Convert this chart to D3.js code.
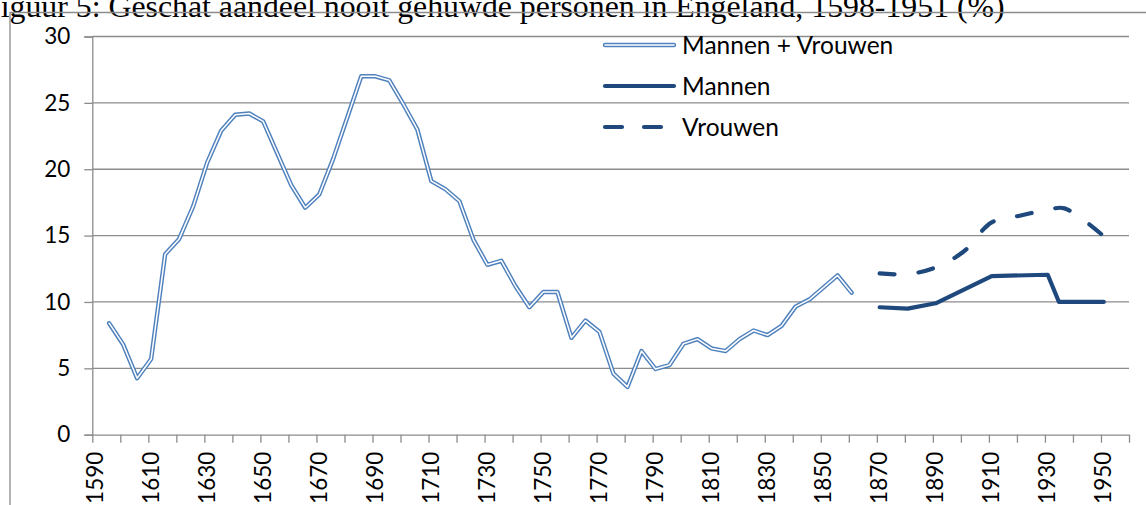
<html>
<head>
<meta charset="utf-8">
<title>Nooit gehuwde personen in Engeland</title>
<script src="https://d3js.org/d3.v7.min.js"></script>
<style>
  html, body { margin:0; padding:0; overflow:hidden; background:#fff }
  svg { display:block }
  .tick-label { font-family: Lato, "Open Sans", sans-serif; font-size:22.5px; fill:#000 }
  .legend text { font-family: Lato, "Open Sans", sans-serif; font-size:24.5px; fill:#000 }
  .title { font-family: "Liberation Serif", "Times New Roman", serif; font-size:31.8px; fill:#000 }
</style>
</head>
<body>
<svg width="1146" height="505"></svg>
<script>
// Mannen + Vrouwen (every 5 years)
const mvYears = [1596, 1601, 1606, 1611, 1616, 1621, 1626, 1631, 1636, 1641,
  1646, 1651, 1656, 1661, 1666, 1671, 1676, 1681, 1686, 1691,
  1696, 1701, 1706, 1711, 1716, 1721, 1726, 1731, 1736, 1741,
  1746, 1751, 1756, 1761, 1766, 1771, 1776, 1781, 1786, 1791,
  1796, 1801, 1806, 1811, 1816, 1821, 1826, 1831, 1836, 1841,
  1846, 1851, 1856, 1861];
const mvValues = [8.4, 6.8, 4.25, 5.7, 13.6, 14.75, 17.2, 20.5, 22.9, 24.1,
  24.2, 23.6, 21.2, 18.8, 17.1, 18.1, 20.8, 23.9, 27.0, 27.0,
  26.7, 24.9, 23.0, 19.1, 18.5, 17.6, 14.7, 12.8, 13.1, 11.2,
  9.6, 10.75, 10.75, 7.3, 8.6, 7.75, 4.6, 3.6, 6.3, 4.95,
  5.25, 6.85, 7.2, 6.5, 6.3, 7.2, 7.85, 7.5, 8.2, 9.65,
  10.2, 11.1, 12.0, 10.7];

const mYears = [1871, 1881, 1891, 1911, 1931, 1935, 1951];
const mValues = [9.6, 9.5, 9.9, 11.95, 12.05, 10.0, 10.0];

const vYears = [1871, 1881, 1891, 1901, 1911, 1921, 1931, 1937, 1951];
const vValues = [12.15, 12.1, 12.6, 13.8, 16.0, 16.5, 16.95, 17.05, 14.95];

const xLabels = [1590, 1610, 1630, 1650, 1670, 1690, 1710, 1730, 1750, 1770,
  1790, 1810, 1830, 1850, 1870, 1890, 1910, 1930, 1950];
const yTicks = [0, 5, 10, 15, 20, 25, 30];
const legendNames = ["Mannen + Vrouwen", "Mannen", "Vrouwen"];

const svg = d3.select("svg");
const blue = "#4f81bd", dark = "#1f497d", grid = "#8c8c8c";

const x = d3.scaleLinear().domain([1590, 1960]).range([92.3, 1129]);
const y = d3.scaleLinear().domain([0, 30]).range([434.7, 36.5]);

// chart frame + title (the title is clipped at the top in the original)
svg.append("text").attr("class", "title").attr("x", -17).attr("y", 17)
  .text("Figuur 5: Geschat aandeel nooit gehuwde personen in Engeland, 1598-1951 (%)");
svg.append("path").attr("d", "M10,505V12.5H1146")
  .attr("fill", "none").attr("stroke", grid).attr("stroke-width", 1.3);

// gridlines
svg.append("g").selectAll("line").data(yTicks.filter(d => d > 0)).join("line")
  .attr("x1", x(1590)).attr("x2", x(1960))
  .attr("y1", d => y(d)).attr("y2", d => y(d))
  .attr("stroke", grid).attr("stroke-width", 1.3);

// y axis
const yAxis = svg.append("g").attr("transform", `translate(${x(1590)},0)`)
  .call(d3.axisLeft(y).tickValues(yTicks).tickSize(8).tickPadding(14).tickFormat(d3.format("d")));
yAxis.select(".domain").attr("stroke", grid).attr("stroke-width", 1.3);
yAxis.selectAll(".tick line").attr("stroke", grid).attr("stroke-width", 1.3);
yAxis.selectAll("text").attr("class", "tick-label").attr("font-size", null).attr("font-family", null);

// x axis
const xAxis = svg.append("g").attr("transform", `translate(0,${y(0)})`)
  .call(d3.axisBottom(x).tickValues(d3.range(1590, 1961, 10)).tickSize(8).tickSizeOuter(0).tickFormat(""));
xAxis.select(".domain").attr("stroke", grid).attr("stroke-width", 1.3);
xAxis.selectAll(".tick line").attr("stroke", grid).attr("stroke-width", 1.3);
xAxis.selectAll(".tick text").remove();
svg.append("g").selectAll("text").data(xLabels).join("text")
  .attr("class", "tick-label")
  .attr("transform", d => `translate(${x(d) + 2.5},${y(0) + 17}) rotate(-90)`)
  .attr("text-anchor", "end").attr("dy", "0.35em")
  .text(d => d);

// series
const line = d3.line().x(d => x(d[0])).y(d => y(d[1]));
const mv = d3.zip(mvYears, mvValues);
svg.append("path").attr("d", line(mv)).attr("fill", "none")
  .attr("stroke", blue).attr("stroke-width", 4.4).attr("stroke-linejoin", "round").attr("stroke-linecap", "round");
svg.append("path").attr("d", line(mv)).attr("fill", "none")
  .attr("stroke", "#fff").attr("stroke-width", 1.5).attr("stroke-linejoin", "round").attr("stroke-linecap", "round");

svg.append("path").attr("d", line(d3.zip(mYears, mValues))).attr("fill", "none")
  .attr("stroke", dark).attr("stroke-width", 4.2).attr("stroke-linejoin", "round").attr("stroke-linecap", "round");

const smooth = d3.line().curve(d3.curveCatmullRom.alpha(0.5)).x(d => x(d[0])).y(d => y(d[1]));
svg.append("path").attr("d", smooth(d3.zip(vYears, vValues))).attr("fill", "none")
  .attr("stroke", dark).attr("stroke-width", 4.2).attr("stroke-linecap", "round")
  .attr("stroke-dasharray", "15,24");

// legend
const lg = svg.append("g").attr("class", "legend");
const ly = [45, 86, 127];
lg.selectAll("text").data(legendNames).join("text")
  .attr("x", 682).attr("y", (d, i) => ly[i]).attr("dy", "0.36em").text(d => d);
lg.append("line").attr("x1", 605).attr("x2", 674).attr("y1", ly[0]).attr("y2", ly[0])
  .attr("stroke", blue).attr("stroke-width", 4.4).attr("stroke-linecap", "round");
lg.append("line").attr("x1", 605).attr("x2", 674).attr("y1", ly[0]).attr("y2", ly[0])
  .attr("stroke", "#fff").attr("stroke-width", 1.5).attr("stroke-linecap", "round");
lg.append("line").attr("x1", 605).attr("x2", 674).attr("y1", ly[1]).attr("y2", ly[1])
  .attr("stroke", dark).attr("stroke-width", 4.2).attr("stroke-linecap", "round");
lg.append("line").attr("x1", 605).attr("x2", 674).attr("y1", ly[2]).attr("y2", ly[2])
  .attr("stroke", dark).attr("stroke-width", 4.2).attr("stroke-linecap", "round")
  .attr("stroke-dasharray", "17,22");
</script>
</body>
</html>
